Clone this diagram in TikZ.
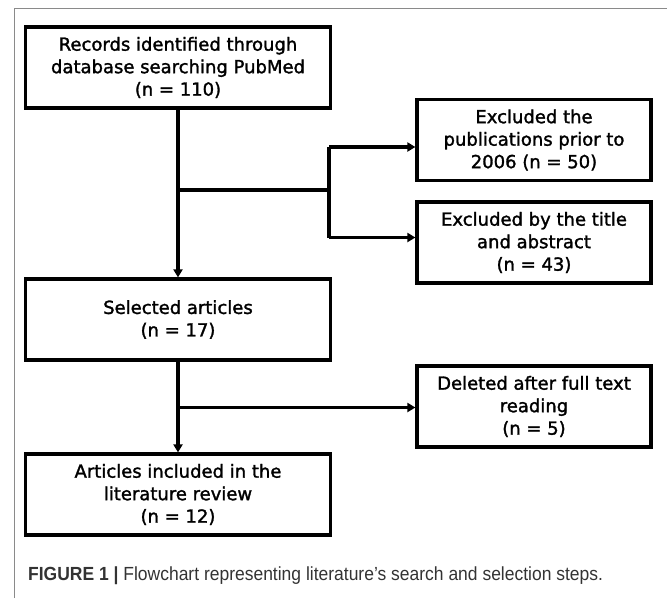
\documentclass[tikz,border=0pt]{standalone}
\usepackage{fontspec}
\setmainfont{DejaVu Sans}
\newfontfamily\boxfont[FakeBold=1.6]{DejaVu Sans}
\newfontfamily\capfont[FakeStretch=0.92]{Liberation Sans}
\usetikzlibrary{arrows.meta}
\definecolor{capgray}{HTML}{333333}
\definecolor{framegray}{HTML}{8A8A8A}
\tikzset{
  box/.style={draw=black, line width=3.2pt, align=center, inner sep=0pt,
    font=\boxfont\fontsize{18}{22.5}\selectfont},
  leftbox/.style={box, minimum width=305pt, minimum height=81pt},
  rightbox/.style={box, minimum width=234pt, minimum height=81pt},
  conn/.style={line width=3.2pt},
  arr/.style={conn, -{Triangle[length=8pt,width=9pt]}}
}
\begin{document}
\begin{tikzpicture}[x=1pt,y=-1pt]
\useasboundingbox (0,0) rectangle (667,598);
\draw[framegray, line width=0.9pt] (14,598) -- (14,8) -- (667,8);
\node[leftbox] (rec) at (178,67.5) {Records identified through\\database searching PubMed\\(n = 110)};
\node[rightbox] (exa) at (534,140) {Excluded the\\publications prior to\\2006 (n = 50)};
\node[rightbox] (exb) at (534,242.5) {Excluded by the title\\and abstract\\(n = 43)};
\node[leftbox] (sel) at (178,319.5) {Selected articles\\(n = 17)};
\node[rightbox] (del) at (534,406.5) {Deleted after full text\\reading\\(n = 5)};
\node[leftbox] (art) at (178,494.5) {Articles included in the\\literature review\\(n = 12)};
\coordinate (ja) at (178,190);
\coordinate (jb) at (329,190);
\coordinate (ta) at (329,147);
\coordinate (tb) at (329,237.5);
\coordinate (jc) at (178,407.5);
\draw[arr] (rec) -- (sel);
\draw[conn] (ja) -- (jb);
\draw[conn] (ta) -- (tb);
\draw[arr] (ta) -- (ta -| exa.west);
\draw[arr] (tb) -- (tb -| exb.west);
\draw[arr] (sel) -- (art);
\draw[arr] (jc) -- (jc -| del.west);
\node[anchor=west, inner sep=0pt, text=capgray, font=\capfont\fontsize{19}{22}\selectfont] (cap) at (28,576)
  {\textbf{FIGURE 1} \textbf{|} Flowchart representing literature’s search and selection steps.};
\end{tikzpicture}
\end{document}
